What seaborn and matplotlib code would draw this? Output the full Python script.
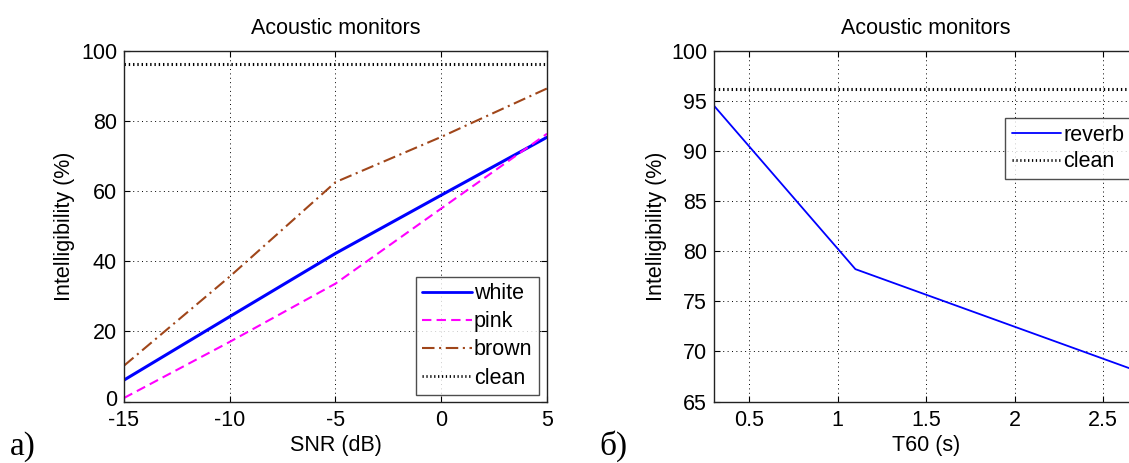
import numpy as np
import pandas as pd
import matplotlib
matplotlib.use("Agg")
import matplotlib.pyplot as plt
import matplotlib.transforms as mtransforms
import seaborn as sns

# Left panel: intelligibility versus SNR for coloured noises
snr_db = [-15, -10, -5, 0, 5]
white_vals = [6.1, 24.2, 42.2, 58.8, 75.3]
pink_vals = [1.0, 17.0, 33.6, 55.0, 76.3]
brown_vals = [10.2, 35.6, 62.5, 75.4, 89.2]

# Right panel: intelligibility versus reverberation time
t60_s = [0.3, 1.1, 1.9, 2.7]
reverb_vals = [94.5, 78.2, 73.1, 68.0]

clean_level = 96.2

snr_ticks = [-15, -10, -5, 0, 5]
snr_ylim = (0, 100)
snr_yticks = [0, 20, 40, 60, 80, 100]
t60_ticks = [0.5, 1, 1.5, 2, 2.5]
t60_xlim = (0.3, 2.7)
t60_ylim = (65, 100)
t60_yticks = [65, 70, 75, 80, 85, 90, 95, 100]

title = "Acoustic monitors"
ylabel = "Intelligibility (%)"

sns.set_style("white")
plt.rcParams["font.family"] = ["Liberation Sans", "DejaVu Sans"]
plt.rcParams["axes.unicode_minus"] = False
plt.rcParams["text.color"] = "black"
plt.rcParams["axes.labelcolor"] = "black"

FS = 15.5
fig = plt.figure(figsize=(11.29, 4.63), dpi=100)
ax1 = fig.add_axes([0.1098, 0.1328, 0.3747, 0.758])
ax2 = fig.add_axes([0.6324, 0.1328, 0.3758, 0.758])

clean_style = dict(color="black", linewidth=2.2, dashes=(0.45, 0.95))


def style_axes(ax):
    ax.grid(True, color="black", linestyle=(0, (1, 3.5)), linewidth=0.7)
    for sp in ax.spines.values():
        sp.set_visible(True)
        sp.set_color("#222222")
        sp.set_linewidth(1.0)
    ax.tick_params(direction="in", length=4, width=0.8, top=True, right=True,
                   bottom=True, left=True, labelsize=FS, pad=5, colors="black")
    ax.tick_params(axis="x", pad=6)
    ax.set_title(title, fontsize=FS, pad=12, color="black")


# --- left panel ---
snr_df = pd.DataFrame({
    "snr": snr_db * 3,
    "val": white_vals + pink_vals + brown_vals,
    "noise": ["white"] * 5 + ["pink"] * 5 + ["brown"] * 5,
})
sns.lineplot(data=snr_df[snr_df.noise == "white"], x="snr", y="val", ax=ax1,
             color="#0000ff", linewidth=2.2, label="white")
sns.lineplot(data=snr_df[snr_df.noise == "pink"], x="snr", y="val", ax=ax1,
             color="#ff00ff", linewidth=1.5, label="pink")
ax1.lines[-1].set_dashes((4.5, 2.5))
sns.lineplot(data=snr_df[snr_df.noise == "brown"], x="snr", y="val", ax=ax1,
             color="#a0461a", linewidth=1.5, label="brown")
ax1.lines[-1].set_dashes((6, 2.2, 1, 2.2))
sns.lineplot(x=[snr_db[0], snr_db[-1]], y=[clean_level, clean_level], ax=ax1,
             label="clean", **clean_style)

ax1.set_xlim(snr_db[0], snr_db[-1])
ax1.set_ylim(*snr_ylim)
ax1.set_xticks(snr_ticks)
ax1.set_yticks(snr_yticks)
ax1.set_xlabel("SNR (dB)", fontsize=FS, labelpad=3)
ax1.set_ylabel(ylabel, fontsize=FS, labelpad=4)
style_axes(ax1)
# lift the bottom "0" label a touch so it clears the "-15" below it
zero_lbl = ax1.yaxis.get_major_ticks()[0].label1
zero_lbl.set_transform(zero_lbl.get_transform() +
                       mtransforms.ScaledTranslation(0, 2.5 / 72, fig.dpi_scale_trans))
leg1 = ax1.legend(loc="lower right", bbox_to_anchor=(0.981, 0.0185), borderaxespad=0,
                  fontsize=FS, frameon=True, fancybox=False, edgecolor="#222222",
                  handlelength=2.3, handletextpad=0.1, labelspacing=0.33,
                  borderpad=0.3)
leg1.get_frame().set_linewidth(1.0)

# --- right panel ---
rev_df = pd.DataFrame({"t60": t60_s, "val": reverb_vals})
sns.lineplot(data=rev_df, x="t60", y="val", ax=ax2, color="#0000ff",
             linewidth=1.3, label="reverb")
sns.lineplot(x=[t60_xlim[0], t60_xlim[1]], y=[clean_level, clean_level], ax=ax2,
             label="clean", **clean_style)
ax2.set_xlim(*t60_xlim)
ax2.set_ylim(*t60_ylim)
ax2.set_xticks(t60_ticks)
ax2.set_xticklabels(["0.5", "1", "1.5", "2", "2.5"])
ax2.set_yticks(t60_yticks)
ax2.set_xlabel("T60 (s)", fontsize=FS, labelpad=3)
ax2.set_ylabel(ylabel, fontsize=FS, labelpad=3)
style_axes(ax2)
leg2 = ax2.legend(loc="upper right", bbox_to_anchor=(0.983, 0.807), borderaxespad=0,
                  fontsize=FS, frameon=True, fancybox=False, edgecolor="#222222",
                  handlelength=2.3, handletextpad=0.1, labelspacing=0.25,
                  borderpad=0.3)
leg2.get_frame().set_linewidth(1.0)
for lg in (leg1, leg2):
    for h in lg.legend_handles:
        h.set_linewidth(min(h.get_linewidth(), 2.0))

# panel letters
fig.text(0.009, 0.017, "a)", fontsize=24, family=["Liberation Serif", "DejaVu Serif"],
         va="baseline", ha="left")
fig.text(0.531, 0.017, "б)", fontsize=24, family=["Liberation Serif", "DejaVu Serif"],
         va="baseline", ha="left")

fig.savefig("out.png", dpi=100)
